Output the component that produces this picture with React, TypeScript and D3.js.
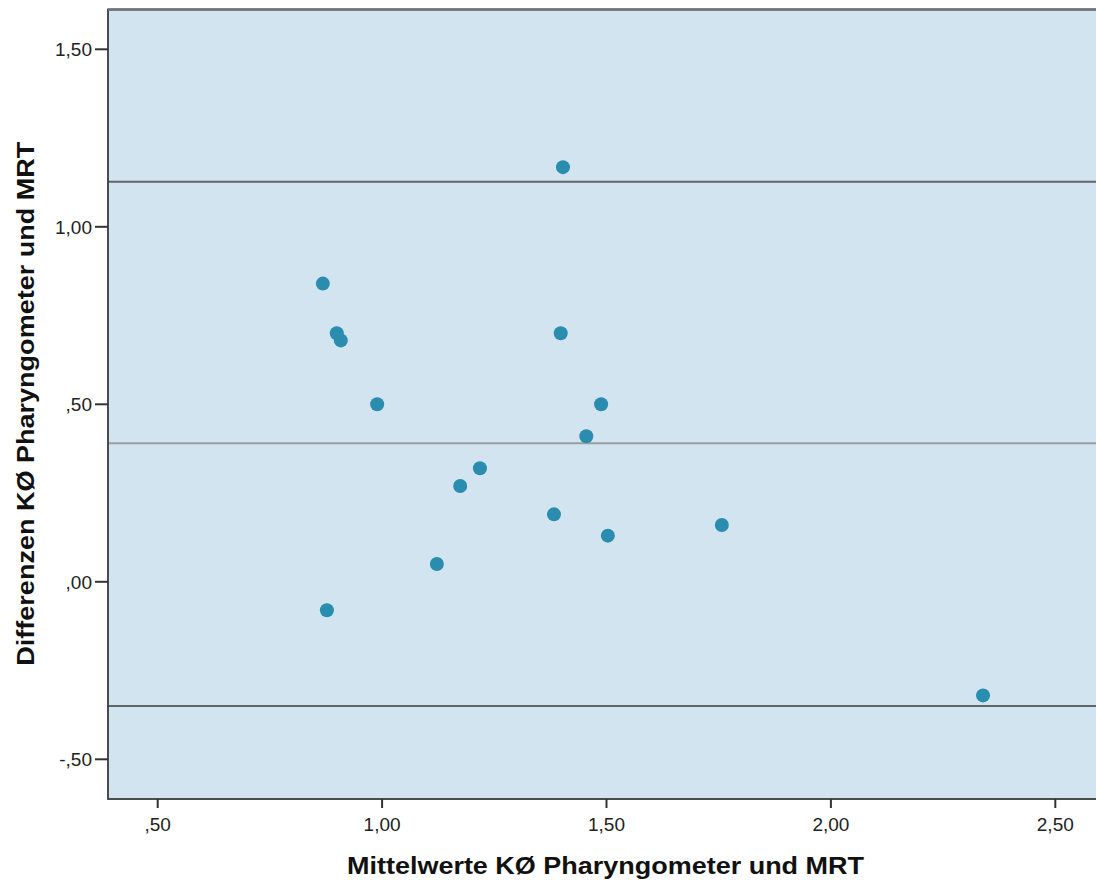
import React from "react";
import * as d3 from "d3";

const meanValues = [1.403, 0.868, 0.899, 0.908, 0.989, 1.398, 1.488, 1.455, 1.218, 1.174, 1.383, 1.503, 1.757, 1.122, 0.877, 2.339];
const diffValues = [1.168, 0.840, 0.700, 0.680, 0.500, 0.700, 0.500, 0.410, 0.320, 0.270, 0.190, 0.130, 0.160, 0.050, -0.080, -0.320];
const xTicks = [0.5, 1.0, 1.5, 2.0, 2.5];
const yTicks = [-0.5, 0.0, 0.5, 1.0, 1.5];
const refLines = [1.127, 0.390, -0.350];
const refKinds = ["limit", "mean", "limit"];
const xTitle = "Mittelwerte KØ Pharyngometer und MRT";
const yTitle = "Differenzen KØ Pharyngometer und MRT";

const W = 1096;
const H = 881;
const left = 108;
const right = 1102;
const top = 9.5;
const bottom = 799;

const fmt = (v: number) => {
  const s = Math.abs(v).toFixed(2).replace(".", ",");
  const t = s.startsWith("0") ? s.slice(1) : s;
  return v < 0 ? "-" + t : t;
};

export default function App() {
  const x = d3.scaleLinear().domain([0.5, 2.5]).range([157.7, 1055.3]);
  const y = d3.scaleLinear().domain([-0.5, 1.5]).range([759.3, 49.3]);
  const font = "'Liberation Sans', Arial, sans-serif";
  return (
    <svg width={W} height={H} style={{ position: "absolute", left: 0, top: 0, background: "#fff" }}>
      <rect x={left} y={top} width={right - left} height={bottom - top} fill="#d2e4ef" />
      {refLines.map((v, i) => (
        <line key={i} x1={left} x2={right} y1={y(v)} y2={y(v)}
          stroke={refKinds[i] === "mean" ? "#9a9ea2" : "#5f666b"} strokeWidth={2} />
      ))}
      {meanValues.map((m, i) => (
        <circle key={i} cx={x(m)} cy={y(diffValues[i])} r={7} fill="#2a8db0" />
      ))}
      <rect x={left} y={top} width={right - left} height={bottom - top} fill="none" stroke="#3a3a3a" strokeWidth={1.8} />
      <line x1={left} x2={right} y1={top} y2={top} stroke="#6e7478" strokeWidth={2.5} />
      {yTicks.map((t) => (
        <g key={t}>
          <line x1={95} x2={left} y1={y(t)} y2={y(t)} stroke="#333" strokeWidth={2} />
          <text x={92} y={y(t) + 7} textAnchor="end" fontSize={19} fontFamily={font} fill="#222">{fmt(t)}</text>
        </g>
      ))}
      {xTicks.map((t) => (
        <g key={t}>
          <line x1={x(t)} x2={x(t)} y1={bottom} y2={bottom + 9} stroke="#333" strokeWidth={2} />
          <text x={x(t)} y={831} textAnchor="middle" fontSize={19} fontFamily={font} fill="#222">{fmt(t)}</text>
        </g>
      ))}
      <text x={605.5} y={874} textAnchor="middle" fontSize={24} fontWeight="bold" fontFamily={font} fill="#111"
        textLength={517} lengthAdjust="spacingAndGlyphs">{xTitle}</text>
      <text transform={`translate(34, ${403.7}) rotate(-90)`} textAnchor="middle" fontSize={24} fontWeight="bold" fontFamily={font} fill="#111"
        textLength={524} lengthAdjust="spacingAndGlyphs">{yTitle}</text>
    </svg>
  );
}
